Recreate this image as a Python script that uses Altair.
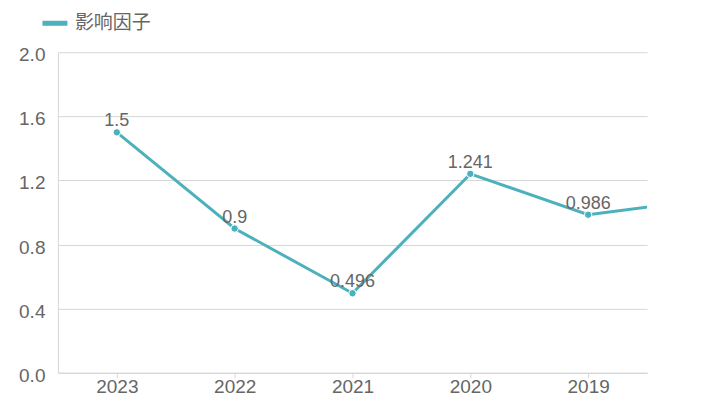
import altair as alt
import pandas as pd

years = ["2023", "2022", "2021", "2020", "2019", "2018"]
values = [1.5, 0.9, 0.496, 1.241, 0.986, 1.08]
labels = ["1.5", "0.9", "0.496", "1.241", "0.986", "1.08"]
series_name = "影响因子"

TEAL = "#4cb1bc"
GRAY = "#666666"
GRID = "#d6d6d6"

df = pd.DataFrame({
    "idx": list(range(len(years))),
    "year": years,
    "value": values,
    "label": labels,
    "series": [series_name] * len(years),
})

label_expr = "[" + ",".join("'%s'" % y for y in years) + "][datum.value]"

x = alt.X(
    "idx:Q",
    scale=alt.Scale(domain=[-0.5, 4.5], nice=False, zero=False),
    axis=alt.Axis(
        values=[0, 1, 2, 3, 4],
        labelExpr=label_expr,
        title=None,
        grid=False,
        domainColor=GRID,
        tickColor=GRID,
        tickSize=5,
        labelColor=GRAY,
        labelFontSize=19,
        labelFont="Liberation Sans",
        labelPadding=0,
    ),
)
y = alt.Y(
    "value:Q",
    scale=alt.Scale(domain=[0, 2], nice=False),
    axis=alt.Axis(
        values=[0, 0.4, 0.8, 1.2, 1.6, 2.0],
        format=".1f",
        title=None,
        grid=True,
        gridColor=GRID,
        domainColor=GRID,
        ticks=False,
        labelColor=GRAY,
        labelFontSize=19,
        labelFont="Liberation Sans",
        labelPadding=13,
        labelOffset=2.5,
    ),
)

base = alt.Chart(df)

line = base.mark_line(strokeWidth=3, clip=True).encode(
    x=x,
    y=y,
    color=alt.Color(
        "series:N",
        scale=alt.Scale(range=[TEAL]),
        legend=alt.Legend(
            title=None,
            orient="none",
            legendX=-18,
            legendY=-44,
            symbolType="stroke",
            symbolSize=625,
            symbolStrokeWidth=5,
            labelFontSize=19,
            labelFont="Noto Sans CJK SC",
            labelColor=GRAY,
            labelOffset=5,
        ),
    ),
)

points = base.mark_point(
    filled=True, size=55, color=TEAL, stroke="white", strokeWidth=1, opacity=1, clip=True
).encode(x=x, y=y)

text = base.transform_filter("datum.idx <= 4").mark_text(
    fontSize=18, font="Liberation Sans", color=GRAY, baseline="alphabetic", dy=-6, clip=True
).encode(x=x, y=y, text="label:N")

chart = (
    alt.layer(line, points, text)
    .properties(
        width=590,
        height=321,
        autosize=alt.AutoSizeParams(type="none"),
        padding={"left": 50, "top": 44, "right": 50, "bottom": 30},
    )
    .configure_view(stroke=None)
)

chart.save("out.html", embed_options={"renderer": "svg", "actions": False})
